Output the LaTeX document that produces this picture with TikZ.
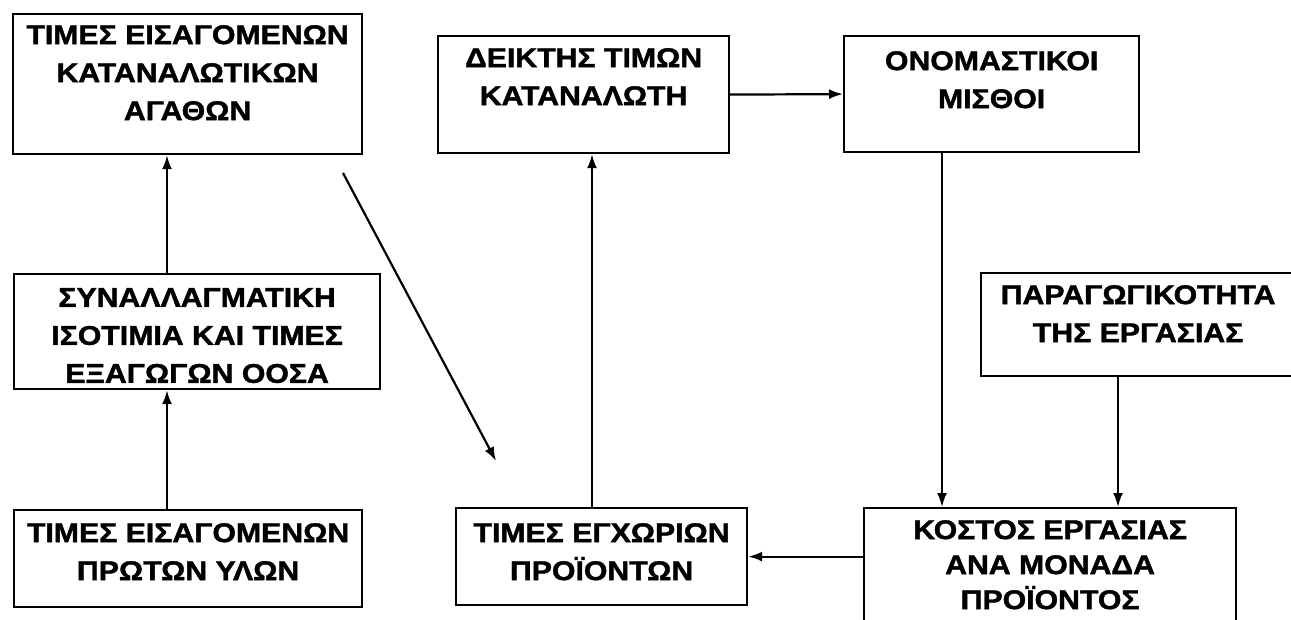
\documentclass[tikz,border=0pt]{standalone}
\usepackage{fontspec}
\setmainfont[FakeStretch=1.12, BoldFeatures={FakeBold=1.6}]{Liberation Sans}
\usetikzlibrary{positioning,arrows.meta}
\tikzset{
  box/.style={draw, line width=2.2pt, anchor=north west, inner sep=0pt},
  lbl/.style={inner sep=0pt, align=center, font=\fontsize{27}{38}\selectfont\bfseries},
  arr/.style={line width=2.2pt, -{Latex[length=14pt,width=10pt]}},
}
\begin{document}
\begin{tikzpicture}[x=1pt,y=-1pt]
  \useasboundingbox (0,0) rectangle (1291,620);
  \clip (0,0) rectangle (1291,620);

  % left column
  \node[box, minimum width=349pt, minimum height=140pt] (b1) at (12,13) {};
  \node[box, minimum width=366pt, minimum height=115pt] (b4) at (13,273) {};
  \node[box, minimum width=348pt, minimum height=97pt] (b6) at (13,509) {};
  \node[lbl, below=12pt of b1.north] (t1) {ΤΙΜΕΣ ΕΙΣΑΓΟΜΕΝΩΝ\\ΚΑΤΑΝΑΛΩΤΙΚΩΝ\\ΑΓΑΘΩΝ};
  \node[lbl, below=15pt of b4.north] (t4) {ΣΥΝΑΛΛΑΓΜΑΤΙΚΗ\\ΙΣΟΤΙΜΙΑ ΚΑΙ ΤΙΜΕΣ\\ΕΞΑΓΩΓΩΝ ΟΟΣΑ};
  \node[lbl, below=14pt of b6.north] (t6) {ΤΙΜΕΣ ΕΙΣΑΓΟΜΕΝΩΝ\\ΠΡΩΤΩΝ ΥΛΩΝ};

  % middle column
  \node[box, minimum width=291pt, minimum height=117pt] (b2) at (437,35) {};
  \node[box, minimum width=291pt, minimum height=97pt] (b7) at (455,507) {};
  \node[lbl, below=13pt of b2.north] (t2) {ΔΕΙΚΤΗΣ ΤΙΜΩΝ\\ΚΑΤΑΝΑΛΩΤΗ};
  \node[lbl, below=16pt of b7.north] (t7) {ΤΙΜΕΣ ΕΓΧΩΡΙΩΝ\\ΠΡΟΪΟΝΤΩΝ};

  % right column
  \node[box, minimum width=295pt, minimum height=116pt] (b3) at (843,35) {};
  \node[box, minimum width=314pt, minimum height=103pt] (b5) at (980,272) {};
  \node[box, minimum width=372pt, minimum height=140pt] (b8) at (863,507) {};
  \node[lbl, below=16pt of b3.north] (t3) {ΟΝΟΜΑΣΤΙΚΟΙ\\ΜΙΣΘΟΙ};
  \node[lbl, below=13pt of b5.north] (t5) {ΠΑΡΑΓΩΓΙΚΟΤΗΤΑ\\ΤΗΣ ΕΡΓΑΣΙΑΣ};
  \node[lbl, below=13pt of b8.north, font=\fontsize{27}{35}\selectfont\bfseries] (t8) {ΚΟΣΤΟΣ ΕΡΓΑΣΙΑΣ\\ΑΝΑ ΜΟΝΑΔΑ\\ΠΡΟΪΟΝΤΟΣ};

  \coordinate (d1) at (343,173);
  \coordinate (d2) at (496,461);

  \draw[arr] ([xshift=154pt]b4.north west) -- ([xshift=155pt]b1.south west);
  \draw[arr] ([xshift=154pt]b6.north west) -- ([xshift=154pt]b4.south west);
  \draw[arr] (d1) -- (d2);
  \draw[arr] ([xshift=137pt]b7.north west) -- ([xshift=155pt]b2.south west);
  \draw[arr] (b2.east) -- (b3.west);
  \draw[arr] ([xshift=99pt]b3.south west) -- ([xshift=79pt]b8.north west);
  \draw[arr] ([xshift=138pt]b5.south west) -- ([xshift=255pt]b8.north west);
  \draw[arr] (b8.west |- b7.east) -- (b7.east);
\end{tikzpicture}
\end{document}
